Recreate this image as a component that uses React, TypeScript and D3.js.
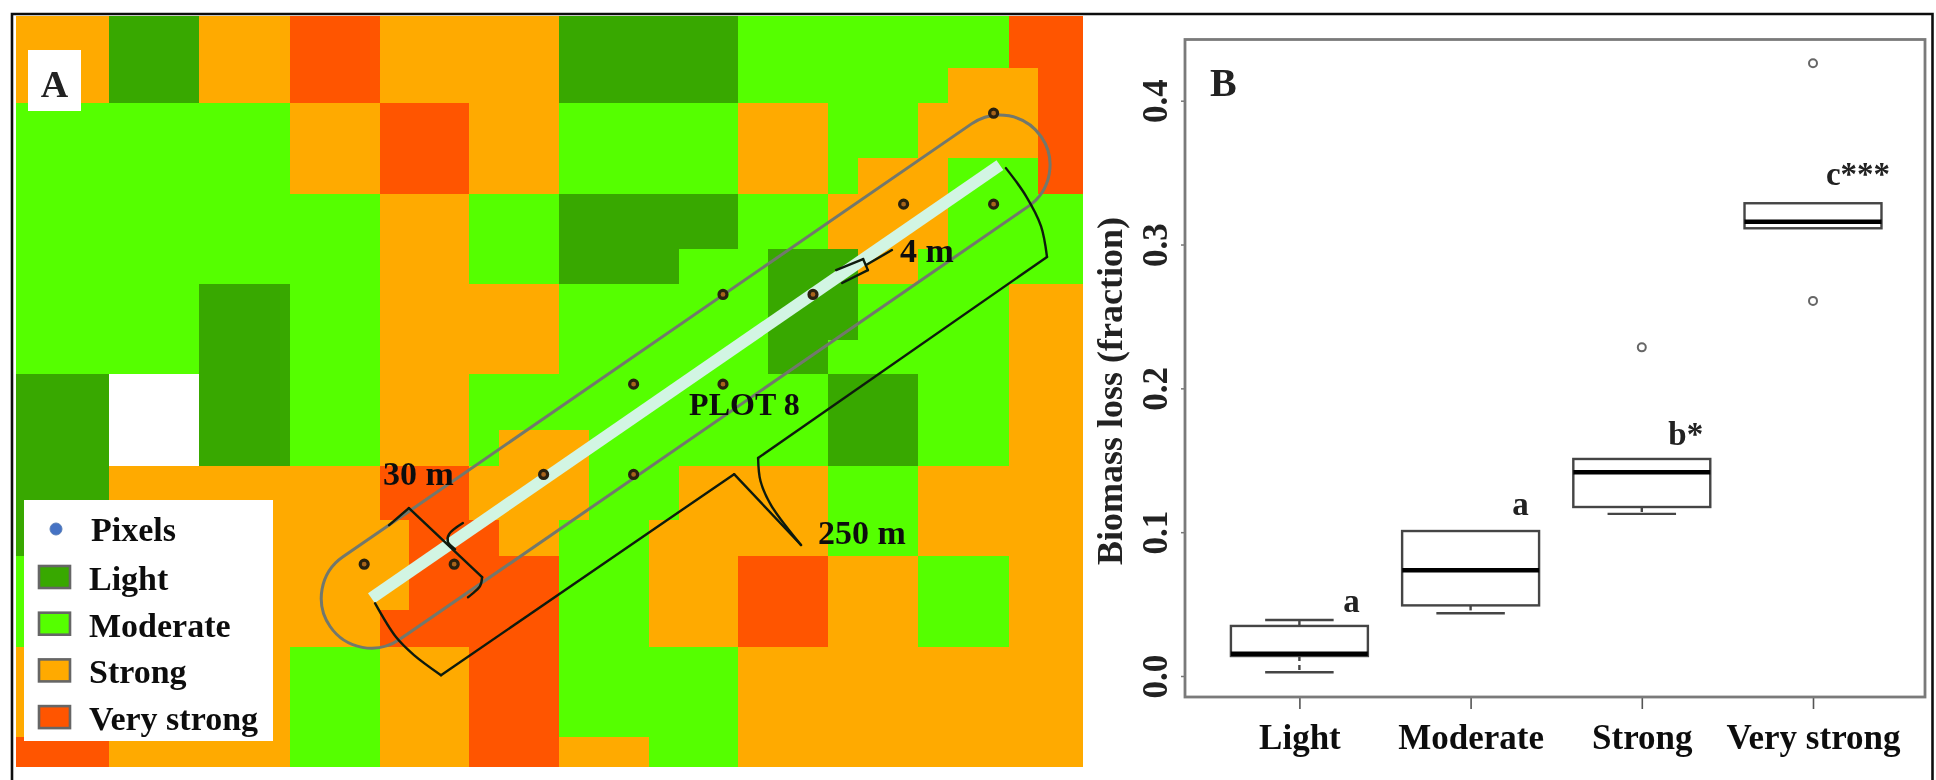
import React, { useEffect, useRef } from 'react';
import * as d3 from 'd3';

// panel A: damage classes on a 30 m grid, edges in metres from the map corner
const mapEdgesX = [-0.7, 30.3, 60.3, 90.7, 120.7, 130.3, 150.3, 160.3, 180.3, 190.3, 210.3, 220.3, 240, 250, 270, 280, 300, 310, 330.3, 340, 355];
const mapEdgesY = [0, 17.3, 29, 47.3, 59.3, 77.7, 89.3, 108, 119.3, 138, 150, 168, 180, 198, 210.3, 240.3, 250.3];
const mapCells = [
  'ODOROOOODDDDGGGGGGRR',
  'ODOROOOODDDDGGGGGOOR',
  'GGGORROOGGGGOOGGOOOR',
  'GGGORROOGGGGOOGOOGGR',
  'GGGGOOGGDDDDGGOOOGGG',
  'GGGGOOGGDDDGGDDOGGGG',
  'GGDGOOOOGGGGGDDGGGOO',
  'GGDGOOOOGGGGGDGGGGOO',
  'DWDGOOGGGGGGGGDDGGOO',
  'DWDGOOGOOGGGGGDDGGOO',
  'DOOORROOOGGOOOGGOOOO',
  'DOOOORROGGOOOOGGOOOO',
  'GOOOORRRGGOORROOGGOO',
  'GOOORRRRGGOORROOGGOO',
  'OOOGOORRGGGGOOOOOOOO',
  'ROOGOORROOGGOOOOOOOO',
];
const classCodes = ['D', 'G', 'O', 'R', 'W'];
const classColors = ['#38a800', '#55ff00', '#ffaa00', '#ff5500', '#ffffff'];
const legendLabels = ['Light', 'Moderate', 'Strong', 'Very strong'];

const plotAxis: [number, number][] = [[117.8, 194], [327.3, 49.7]];
const plotRadius = 16.7;
const samplePixels = [
  [115.4, 182.7], [145.4, 182.7], [175.2, 152.8], [205.2, 152.8], [205.2, 122.7], [235, 122.7],
  [235, 92.8], [265, 92.8], [295.2, 62.7], [325.2, 62.7], [325.2, 32.4],
];
// every piece goes through a Catmull-Rom curve, two points stay straight
const brackets: [number, number][][] = [
  [[119, 195.7], [126, 207], [132, 213], [141, 219.7]],
  [[141, 219.7], [238.7, 152.7]],
  [[238.7, 152.7], [261, 176.3]],
  [[261, 176.3], [251, 163], [247.5, 155], [246.7, 147.3]],
  [[246.7, 147.3], [343, 80.3]],
  [[343, 80.3], [341, 70], [336, 60], [329.3, 50.7]],
  [[123.7, 169.7], [130.3, 164]],
  [[130.3, 164], [154.7, 187]],
  [[154.7, 187], [154, 190], [150, 193.7]],
  [[148.3, 169], [143.7, 172.7], [143.3, 175.3], [145.7, 177.7]],
  [[272.7, 84.7], [281.7, 81]],
  [[281.7, 81], [283.3, 84.7]],
  [[283.3, 84.7], [274.7, 89]],
  [[282.7, 83], [291.3, 78]],
];
const mapLabels: [string, number, number][] = [
  ['4 m', 294, 82],
  ['30 m', 121.7, 156.3],
  ['PLOT 8', 223.7, 133],
  ['250 m', 266.7, 176],
];

// panel B: boxplots of biomass loss
const categories = ['Light', 'Moderate', 'Strong', 'Very strong'];
const whiskerLow = [0.0026, 0.0436, 0.1127, 0.3113];
const boxLow = [0.0139, 0.0491, 0.1175, 0.3113];
const medians = [0.0155, 0.0735, 0.1416, 0.3159];
const boxHigh = [0.0348, 0.1008, 0.1509, 0.3287];
const whiskerHigh = [0.0389, 0.1008, 0.1509, 0.3287];
const outliers = [[], [], [0.2285], [0.426, 0.2608]];
const yTicks = [0, 0.1, 0.2, 0.3, 0.4];
const sigLabels = ['a', 'a', 'b*', 'c***'];
const sigValues = [0.0448, 0.1119, 0.1607, 0.3415];

export default function App() {
  const svgRef = useRef<SVGSVGElement>(null);

  useEffect(() => {
    if (!svgRef.current) return;
    const root = d3.select(svgRef.current);
    root.selectAll('*').remove();

    const defs = root.append('defs');
    defs.append('filter').attr('id', 'soft').attr('x', 0).attr('y', 0).attr('width', 1).attr('height', 1)
      .append('feGaussianBlur').attr('stdDeviation', 0.6);

    const svg = root.append('g').attr('filter', 'url(#soft)')
      .style('font-family', '"Liberation Serif", serif')
      .style('font-weight', 'bold');

    svg.append('rect').attr('width', 1936).attr('height', 780).attr('fill', '#fff');

    // ---- panel A
    const mx = d3.scaleLinear().domain([0, 355]).range([18, 1083]);
    const my = d3.scaleLinear().domain([0, 250.3]).range([16, 767]);
    const classColor = d3.scaleOrdinal<string, string>().domain(classCodes).range(classColors);

    const cells = mapCells.flatMap((row, r) => row.split('').map((code, c) => ({ code, r, c })));
    svg.append('g').attr('shape-rendering', 'crispEdges')
      .selectAll('rect').data(cells).enter().append('rect')
      .attr('x', d => mx(mapEdgesX[d.c]))
      .attr('y', d => my(mapEdgesY[d.r]))
      .attr('width', d => mx(mapEdgesX[d.c + 1]) - mx(mapEdgesX[d.c]))
      .attr('height', d => my(mapEdgesY[d.r + 1]) - my(mapEdgesY[d.r]))
      .attr('fill', d => classColor(d.code));

    // panel letter A
    svg.append('rect').attr('x', 28).attr('y', 50).attr('width', 53).attr('height', 61).attr('fill', '#fff');
    svg.append('text').attr('x', 54.5).attr('y', 97).attr('text-anchor', 'middle')
      .style('font-size', '38px').style('fill', '#222').text('A');

    // centre strip and plot outline
    const [a, b] = plotAxis.map(p => [mx(p[0]), my(p[1])]);
    const r = mx(plotRadius) - mx(0);
    const th = Math.atan2(b[1] - a[1], b[0] - a[0]);
    const outline = d3.path();
    outline.arc(a[0], a[1], r, th + Math.PI / 2, th + 3 * Math.PI / 2);
    outline.arc(b[0], b[1], r, th - Math.PI / 2, th + Math.PI / 2);
    outline.closePath();

    svg.append('line').attr('x1', a[0]).attr('y1', a[1]).attr('x2', b[0]).attr('y2', b[1])
      .attr('stroke', '#d2f5e3').attr('stroke-width', mx(4) - mx(0));
    svg.append('path').attr('d', outline.toString()).attr('fill', 'none')
      .attr('stroke', '#72786c').attr('stroke-width', 3);

    const bracketLine = d3.line<[number, number]>().x(d => mx(d[0])).y(d => my(d[1])).curve(d3.curveCatmullRom);
    svg.append('g').selectAll('path').data(brackets).enter().append('path')
      .attr('d', d => bracketLine(d))
      .attr('fill', 'none').attr('stroke', '#101a0c').attr('stroke-width', 2.4)
      .attr('stroke-linecap', 'round');

    svg.append('g').selectAll('circle').data(samplePixels).enter().append('circle')
      .attr('cx', d => mx(d[0])).attr('cy', d => my(d[1])).attr('r', 4)
      .attr('fill', '#a8651a').attr('stroke', '#2a2010').attr('stroke-width', 3.2);

    svg.append('g').selectAll('text').data(mapLabels).enter().append('text')
      .attr('x', d => mx(d[1])).attr('y', d => my(d[2]))
      .style('font-size', d => (d[0] === 'PLOT 8' ? '32px' : '34px')).style('fill', '#111')
      .text(d => d[0]);

    // legend
    const legend = svg.append('g');
    legend.append('rect').attr('x', 24).attr('y', 500).attr('width', 249).attr('height', 241).attr('fill', '#fff');
    legend.append('circle').attr('cx', 56).attr('cy', 529).attr('r', 6).attr('fill', '#4472c4').attr('stroke', '#5b7fb8');
    legend.append('text').attr('x', 91).attr('y', 541).style('font-size', '34px').style('fill', '#111').text('Pixels');
    const legendRow = legend.selectAll('.row').data(legendLabels).enter().append('g').attr('class', 'row')
      .attr('transform', (d, i) => `translate(0, ${i * 46.7})`);
    legendRow.append('rect').attr('x', 39).attr('y', 566).attr('width', 31).attr('height', 22)
      .attr('fill', (d, i) => classColors[i]).attr('stroke', '#666').attr('stroke-width', 2.6);
    legendRow.append('text').attr('x', 89).attr('y', 590)
      .style('font-size', '34px').style('fill', '#111').text(d => d);

    // ---- panel B
    const frame = { left: 1185, right: 1925, top: 39.5, bottom: 697 };
    const x = d3.scalePoint<string>().domain(categories).range([1299.4, 1813]);
    const y = d3.scaleLinear().domain([0, 0.4]).range([676, 100.7]);
    const step = x.step();
    const boxW = step * 0.8;
    const capW = step * 0.4;

    const yAxis = svg.append('g').attr('transform', `translate(${frame.left},0)`)
      .call(d3.axisLeft(y).tickValues(yTicks).tickSize(4).tickFormat(d3.format('.1f') as any));
    yAxis.select('.domain').remove();
    yAxis.selectAll('line').attr('stroke', '#777').attr('stroke-width', 1.5);
    yAxis.selectAll('text')
      .attr('x', 0).attr('y', 0).attr('dy', 0)
      .attr('text-anchor', 'middle')
      .attr('transform', 'translate(-18,0) rotate(-90)')
      .style('font-family', '"Liberation Serif", serif').style('font-weight', 'bold')
      .style('font-size', '35px').style('fill', '#222');

    const xAxis = svg.append('g').attr('transform', `translate(0,${frame.bottom})`)
      .call(d3.axisBottom(x).tickSize(12));
    xAxis.select('.domain').remove();
    xAxis.selectAll('line').attr('stroke', '#555').attr('stroke-width', 1.6);
    xAxis.selectAll('text')
      .attr('y', 52).attr('dy', 0)
      .style('font-family', '"Liberation Serif", serif').style('font-weight', 'bold')
      .style('font-size', '35px').style('fill', '#111');

    svg.append('text')
      .attr('transform', `translate(1122,391) rotate(-90)`)
      .attr('text-anchor', 'middle')
      .style('font-size', '36px').style('fill', '#222')
      .text('Biomass loss (fraction)');

    svg.append('rect')
      .attr('x', frame.left).attr('y', frame.top)
      .attr('width', frame.right - frame.left).attr('height', frame.bottom - frame.top)
      .attr('fill', 'none').attr('stroke', '#7a7a7a').attr('stroke-width', 2.8);

    svg.append('text').attr('x', 1210).attr('y', 96).style('font-size', '40px').style('fill', '#222').text('B');

    categories.forEach((cat, i) => {
      const cx = x(cat) as number;
      const g = svg.append('g').attr('stroke', '#444').attr('fill', 'none').attr('stroke-width', 2.4);
      if (whiskerHigh[i] > boxHigh[i]) {
        g.append('line').attr('x1', cx).attr('x2', cx).attr('y1', y(boxHigh[i])).attr('y2', y(whiskerHigh[i]));
        g.append('line').attr('x1', cx - capW / 2).attr('x2', cx + capW / 2).attr('y1', y(whiskerHigh[i])).attr('y2', y(whiskerHigh[i]));
      }
      if (whiskerLow[i] < boxLow[i]) {
        g.append('line').attr('x1', cx).attr('x2', cx).attr('y1', y(boxLow[i])).attr('y2', y(whiskerLow[i]))
          .attr('stroke-dasharray', '5 4');
        g.append('line').attr('x1', cx - capW / 2).attr('x2', cx + capW / 2).attr('y1', y(whiskerLow[i])).attr('y2', y(whiskerLow[i]));
      }
      g.append('rect').attr('x', cx - boxW / 2).attr('width', boxW)
        .attr('y', y(boxHigh[i])).attr('height', y(boxLow[i]) - y(boxHigh[i]));
      g.append('line').attr('x1', cx - boxW / 2).attr('x2', cx + boxW / 2).attr('y1', y(medians[i])).attr('y2', y(medians[i]))
        .attr('stroke', '#000').attr('stroke-width', 4.5);
      g.selectAll('circle').data(outliers[i]).enter().append('circle')
        .attr('cx', cx).attr('cy', d => y(d)).attr('r', 4)
        .attr('stroke', '#666').attr('stroke-width', 2).attr('fill', '#fff');

      svg.append('text')
        .attr('x', cx + [52, 50, 44, 45][i]).attr('y', y(sigValues[i]))
        .attr('text-anchor', 'middle')
        .style('font-size', '33px').style('fill', '#222')
        .text(sigLabels[i]);
    });

    // outer border, open at the bottom
    svg.append('path').attr('d', 'M12,780V14H1932.5V780')
      .attr('fill', 'none').attr('stroke', '#111').attr('stroke-width', 2.6);
  }, []);

  return (
    <svg ref={svgRef} width={1936} height={780} style={{ position: 'absolute', left: 0, top: 0, display: 'block' }} />
  );
}
